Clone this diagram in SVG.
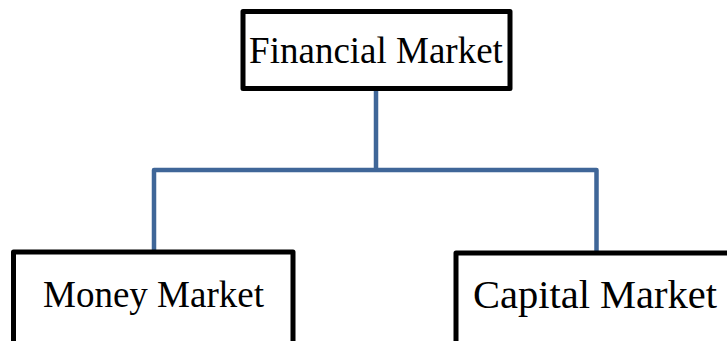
<svg xmlns="http://www.w3.org/2000/svg" width="727" height="341" viewBox="0 0 727 341">
<style>
.box{fill:#fff;stroke:#000;stroke-width:5;stroke-linejoin:round}
.lbl{font-family:"Liberation Serif","Times New Roman",serif;fill:#000}
.conn{fill:none;stroke:#3f6698;stroke-width:4.5;stroke-linejoin:round}
</style>
<rect width="727" height="341" fill="#fff"/>
<g id="connectors">
<path class="conn" d="M376 90 V170 M154 252 V170 H596.5 V253"/>
</g>
<g id="financial-market">
<rect class="box" x="243" y="11.5" width="267" height="77"/>
<text class="lbl" x="376" y="63" font-size="37" text-anchor="middle">Financial Market</text>
</g>
<g id="money-market">
<rect class="box" x="13.5" y="252" width="279.5" height="100"/>
<text class="lbl" x="153.5" y="307" font-size="37" text-anchor="middle">Money Market</text>
</g>
<g id="capital-market">
<rect class="box" x="456" y="253" width="290" height="100"/>
<text class="lbl" x="473" y="308" font-size="40.5">Capital Market</text>
</g>
</svg>
